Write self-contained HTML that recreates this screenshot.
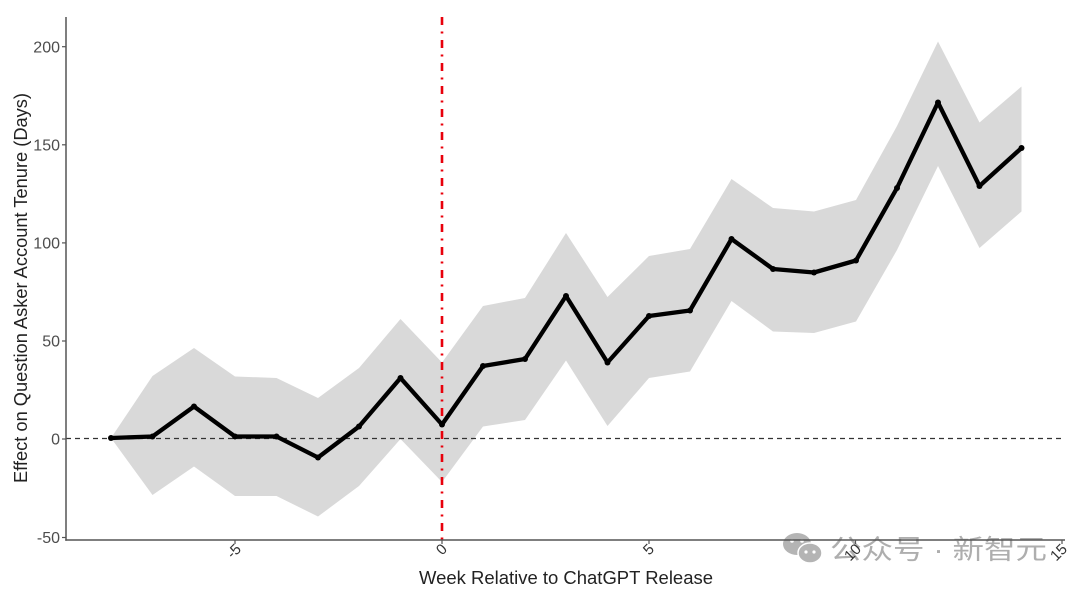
<!DOCTYPE html>
<html><head><meta charset="utf-8"><style>
html,body{margin:0;padding:0;background:#fff;}
svg{display:block;}
</style></head><body>
<svg width="1080" height="593" viewBox="0 0 1080 593" xmlns="http://www.w3.org/2000/svg" font-family="'Liberation Sans', 'Noto Sans CJK SC', sans-serif">
<rect width="1080" height="593" fill="#fff"/>
<!-- CI band -->
<polygon fill="#d9d9d9" points="111,438 152.5,376 194,348 235,376.5 276.5,378 318,398 359,368 400.5,319 442,362.5 483,306 525,298 566,233 607.5,297 649,256 690,249 731.5,179 773,208 814,211.5 856,200 897,126 938,41.5 979.5,122.5 1021.5,86.5 1021.5,211.5 979.5,248 938,166 897,250 856,321.5 814,333 773,331.5 731.5,301 690,371.5 649,378 607.5,426 566,360.5 525,420 483,426.5 442,482 400.5,439 359,486 318,516.5 276.5,496 235,496 194,466.5 152.5,495"/>
<!-- zero dashed line -->
<line x1="66" y1="438.5" x2="1065" y2="438.5" stroke="#333" stroke-width="1.2" stroke-dasharray="5,4"/>
<!-- red vertical -->
<line x1="442" y1="17" x2="442" y2="540" stroke="#e8000b" stroke-width="2.6" stroke-dasharray="8,6.5,2,6.5"/>
<!-- main line -->
<polyline fill="none" stroke="#000" stroke-width="4.3" stroke-linejoin="round" stroke-linecap="round" points="111,438 152.5,436.5 194,406.5 235,436.5 276.5,436.5 318,457.5 359,426.5 400.5,378 442,424.5 483,366 525,359 566,296 607.5,362.5 649,316 690,310.5 731.5,239 773,269 814,272.5 856,260.5 897,188 938,102.5 979.5,186 1021.5,148"/>
<g fill="#000">
<circle cx="111" cy="438" r="3"/><circle cx="152.5" cy="436.5" r="3"/><circle cx="194" cy="406.5" r="3"/><circle cx="235" cy="436.5" r="3"/><circle cx="276.5" cy="436.5" r="3"/><circle cx="318" cy="457.5" r="3"/><circle cx="359" cy="426.5" r="3"/><circle cx="400.5" cy="378" r="3"/><circle cx="442" cy="424.5" r="3"/><circle cx="483" cy="366" r="3"/><circle cx="525" cy="359" r="3"/><circle cx="566" cy="296" r="3"/><circle cx="607.5" cy="362.5" r="3"/><circle cx="649" cy="316" r="3"/><circle cx="690" cy="310.5" r="3"/><circle cx="731.5" cy="239" r="3"/><circle cx="773" cy="269" r="3"/><circle cx="814" cy="272.5" r="3"/><circle cx="856" cy="260.5" r="3"/><circle cx="897" cy="188" r="3"/><circle cx="938" cy="102.5" r="3"/><circle cx="979.5" cy="186" r="3"/><circle cx="1021.5" cy="148" r="3"/>
</g>
<!-- watermark -->
<g opacity="0.85">
<ellipse cx="797" cy="544" rx="14" ry="11" fill="#a8a8a8"/>
<ellipse cx="810" cy="553" rx="12" ry="10" fill="#a8a8a8" stroke="#fff" stroke-width="1.5"/>
<circle cx="792" cy="541" r="1.8" fill="#fff"/><circle cx="802" cy="541" r="1.8" fill="#fff"/>
<circle cx="806" cy="552" r="1.6" fill="#fff"/><circle cx="814" cy="552" r="1.6" fill="#fff"/>
<text x="830" y="559" font-size="27" fill="#a0a0a0" font-family="'Liberation Sans','Noto Sans CJK SC',sans-serif" textLength="217" lengthAdjust="spacingAndGlyphs">公众号 · 新智元</text>
</g>
<!-- axes -->
<line x1="66" y1="17" x2="66" y2="540.7" stroke="#555" stroke-width="1.5"/>
<line x1="65.3" y1="540" x2="1065" y2="540" stroke="#555" stroke-width="1.5"/>
<!-- y ticks -->
<g stroke="#555" stroke-width="1.2">
<line x1="62" y1="46.7" x2="66" y2="46.7"/>
<line x1="62" y1="144.8" x2="66" y2="144.8"/>
<line x1="62" y1="242.9" x2="66" y2="242.9"/>
<line x1="62" y1="341" x2="66" y2="341"/>
<line x1="62" y1="439" x2="66" y2="439"/>
<line x1="62" y1="537.5" x2="66" y2="537.5"/>
</g>
<g font-size="16" fill="#4d4d4d" text-anchor="end">
<text x="60" y="52.5">200</text>
<text x="60" y="150.5">150</text>
<text x="60" y="248.5">100</text>
<text x="60" y="346.5">50</text>
<text x="60" y="444.5">0</text>
<text x="60" y="543">-50</text>
</g>
<!-- x ticks -->
<g stroke="#555" stroke-width="1.2">
<line x1="235" y1="540" x2="235" y2="544"/>
<line x1="442" y1="540" x2="442" y2="544"/>
<line x1="649" y1="540" x2="649" y2="544"/>
<line x1="855.5" y1="540" x2="855.5" y2="544"/>
<line x1="1062" y1="540" x2="1062" y2="544"/>
</g>
<g font-size="15" fill="#333" text-anchor="end">
<text transform="translate(242,550) rotate(-45)">-5</text>
<text transform="translate(448,550) rotate(-45)">0</text>
<text transform="translate(655,550) rotate(-45)">5</text>
<text transform="translate(862,550) rotate(-45)">10</text>
<text transform="translate(1068,550) rotate(-45)">15</text>
</g>
<!-- axis titles -->
<text x="566" y="584" font-size="18" fill="#222" text-anchor="middle" textLength="294" lengthAdjust="spacingAndGlyphs">Week Relative to ChatGPT Release</text>
<text transform="translate(27,288) rotate(-90)" font-size="18" fill="#222" text-anchor="middle" textLength="390" lengthAdjust="spacingAndGlyphs">Effect on Question Asker Account Tenure (Days)</text>
</svg>
</body></html>
